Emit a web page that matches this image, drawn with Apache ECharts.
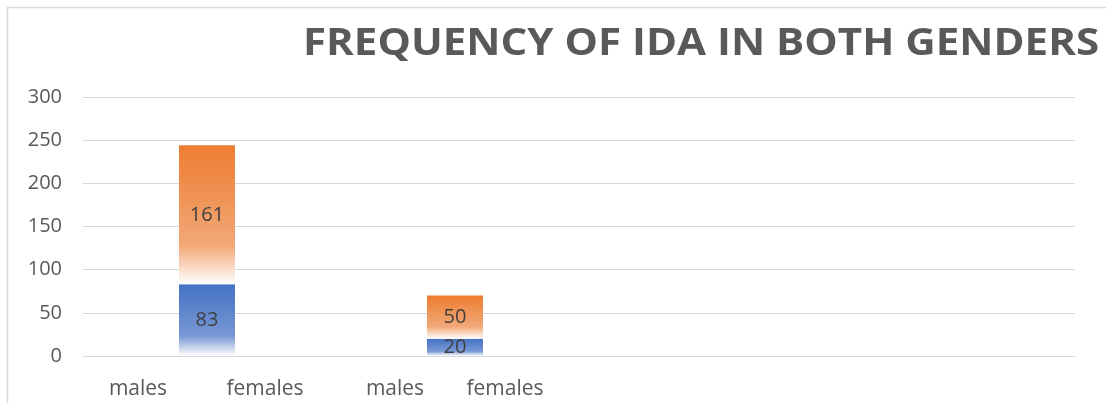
<!DOCTYPE html>
<html>
<head>
<meta charset="utf-8">
<script src="https://cdn.jsdelivr.net/npm/echarts@6/dist/echarts.min.js"></script>
<style>html,body{margin:0;padding:0;background:#fff}#c{width:1106px;height:403px}</style>
</head>
<body>
<div id="c"></div>
<script>
const titleText = 'FREQUENCY OF IDA IN BOTH GENDERS';
const categories = ['', '', '', ''];
const labelCategories = ['males', 'females', 'males', 'females', '', '', '', ''];
const seriesBlue = [83, 20, null, null];
const seriesOrange = [161, 50, null, null];
const yTicks = [0, 50, 100, 150, 200, 250, 300];
// horizontal nudges (px) for the lower labels, kept apart from the data
const labelNudge = [-7, -4, 2, -12, 0, 0, 0, 0];

function grad(top, mid) {
  return new echarts.graphic.LinearGradient(0, 0, 0, 1, [
    { offset: 0, color: top },
    { offset: 0.72, color: mid },
    { offset: 1, color: '#ffffff' }
  ]);
}

const labelData = labelCategories.map((v, i) => {
  const n = labelNudge[i];
  return { value: v, textStyle: { padding: n < 0 ? [0, -2 * n, 0, 0] : [0, 0, 0, 2 * n] } };
});

const chart = echarts.init(document.getElementById('c'), null, { renderer: 'canvas' });
chart.setOption({
  animation: false,
  backgroundColor: '#ffffff',
  graphic: [{
    type: 'rect', shape: { x: 7.5, y: 7.5, width: 1300, height: 600 },
    style: { stroke: '#d9d9d9', lineWidth: 1.5, fill: 'none' }, z: -1, silent: true
  }, {
    type: 'text', x: 303, y: 44, scaleX: 1.137, originX: 0, originY: 0,
    style: {
      text: titleText, fill: '#595959',
      font: 'bold 37px "Open Sans"', textAlign: 'left', textVerticalAlign: 'middle'
    }
  }],
  grid: { left: 83, right: 31, top: 97, bottom: 47 },
  xAxis: [{
    type: 'category', data: categories,
    axisLine: { lineStyle: { color: '#d9d9d9' } },
    axisTick: { show: false }, axisLabel: { show: false }
  }, {
    type: 'category', data: labelData, position: 'bottom',
    axisLine: { show: false }, axisTick: { show: false },
    axisLabel: { fontFamily: 'Open Sans', fontSize: 21, color: '#595959', margin: 23, interval: 0 }
  }],
  yAxis: {
    type: 'value', min: yTicks[0], max: yTicks[yTicks.length - 1], interval: 50,
    axisLine: { show: false }, axisTick: { show: false },
    splitLine: { lineStyle: { color: '#d9d9d9', width: 1 } },
    axisLabel: { fontFamily: 'Open Sans', fontSize: 20, color: '#595959', margin: 21 }
  },
  series: [{
    type: 'bar', stack: 's', data: seriesBlue, barWidth: 56, xAxisIndex: 0,
    itemStyle: { color: grad('#4472c4', '#7898d4') },
    label: { show: true, position: 'inside', fontFamily: 'Open Sans', fontSize: 20, color: '#404040' }
  }, {
    type: 'bar', stack: 's', data: seriesOrange, barWidth: 56, xAxisIndex: 0,
    itemStyle: { color: grad('#ed7d31', '#f2a878') },
    label: { show: true, position: 'inside', fontFamily: 'Open Sans', fontSize: 20, color: '#404040' }
  }]
});
</script>
</body>
</html>
